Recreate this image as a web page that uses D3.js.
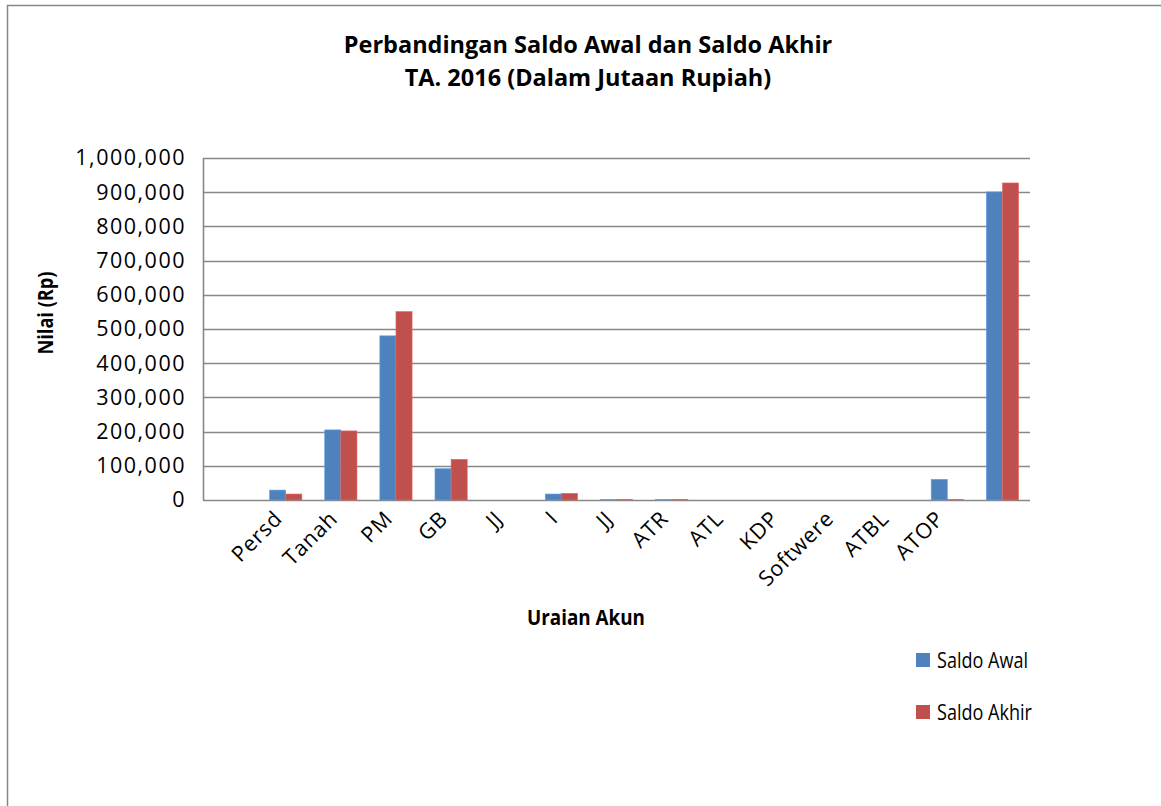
<!DOCTYPE html>
<html>
<head>
<meta charset="utf-8">
<script src="https://cdn.jsdelivr.net/npm/d3@7"></script>
<style>
  body { margin: 0; background: #fff; }
  svg { display: block; font-family: "Open Sans", "Noto Sans", sans-serif; }
</style>
</head>
<body>
<div id="graphic"></div>
<script>
const width = 1161;
const height = 806;
const margin = { top: 158, right: 131, bottom: 306, left: 203 };

const innerW = width - margin.left - margin.right;
const innerH = height - margin.top - margin.bottom;

// data (Jutaan Rupiah)
const categories = ["", "Persd", "Tanah", "PM", "GB", "JJ", "I", "JJ ", "ATR", "ATL", "KDP", "Softwere", "ATBL", "ATOP", " "];
const saldoAwal  = [0, 29000, 205000, 480000, 91500, 0, 17500, 1500, 1500, 0, 0, 0, 0, 60500, 901000];
const saldoAkhir = [0, 17500, 202000, 551000, 119000, 0, 19500, 1500, 1500, 0, 0, 0, 0, 1500, 927000];
const seriesNames = ["Saldo Awal", "Saldo Akhir"];
const seriesColors = ["#4F81BD", "#C0504D"];
const yTicks = [0, 100000, 200000, 300000, 400000, 500000, 600000, 700000, 800000, 900000, 1000000];

const svg = d3.select("#graphic").append("svg")
  .attr("width", width)
  .attr("height", height);

// chart frame
svg.append("rect")
  .attr("x", 7.5).attr("y", 5.5)
  .attr("width", width + 20).attr("height", height + 20)
  .attr("fill", "#fff")
  .attr("stroke", "#868686")
  .attr("stroke-width", 1.5);

const g = svg.append("g")
  .attr("transform", `translate(${margin.left},${margin.top})`);

const x = d3.scaleBand()
  .domain(d3.range(categories.length))
  .range([0, innerW]);

const x1 = d3.scaleBand()
  .domain(seriesNames)
  .range([0, x.bandwidth()])
  .paddingOuter(0.71);

const y = d3.scaleLinear()
  .domain([0, 1000000])
  .range([innerH, 0]);

// gridlines
g.append("g")
  .selectAll("line")
  .data(yTicks)
  .join("line")
  .attr("x1", 0)
  .attr("x2", innerW)
  .attr("y1", d => Math.round(y(d)) + 0.5)
  .attr("y2", d => Math.round(y(d)) + 0.5)
  .attr("stroke", "#888")
  .attr("stroke-width", 1.6);

// left axis line
g.append("line")
  .attr("x1", 0.5).attr("x2", 0.5)
  .attr("y1", 0).attr("y2", innerH)
  .attr("stroke", "#888")
  .attr("stroke-width", 1.6);

// y tick labels
const gy = g.append("g")
  .call(d3.axisLeft(y).tickValues(yTicks).tickFormat(d3.format(",")).tickSize(0).tickPadding(17));
gy.select(".domain").remove();
gy.selectAll("text")
  .attr("font-size", 21.5)
  .attr("letter-spacing", 1.5)
  .attr("font-family", "Open Sans, sans-serif")
  .attr("fill", "#000");

// bars
const rows = categories.map((c, i) => ({ i, values: [saldoAwal[i], saldoAkhir[i]] }));

const groups = g.append("g")
  .selectAll("g")
  .data(rows)
  .join("g")
  .attr("transform", d => `translate(${x(d.i)},0)`);

groups.selectAll("rect")
  .data(d => d.values.map((v, k) => ({ key: seriesNames[k], v, k })))
  .join("rect")
  .attr("x", d => x1(d.key))
  .attr("y", d => y(d.v))
  .attr("width", x1.bandwidth())
  .attr("height", d => innerH - y(d.v))
  .attr("fill", d => seriesColors[d.k])
  .attr("stroke", d => d3.color(seriesColors[d.k]).brighter(0.6))
  .attr("stroke-width", 0.6);

// x tick labels, rotated
const gx = g.append("g")
  .attr("transform", `translate(0,${innerH})`);
gx.selectAll("text")
  .data(categories)
  .join("text")
  .attr("transform", (d, i) => `translate(${x(i) + x.bandwidth() / 2 - 2},${20}) rotate(-45)`)
  .attr("text-anchor", "end")
  .attr("font-size", 21.5)
  .attr("letter-spacing", 0.8)
  .attr("font-family", "Open Sans, sans-serif")
  .attr("fill", "#000")
  .text(d => d.trim());

// titles
const title = svg.append("text")
  .attr("x", 588)
  .attr("y", 53)
  .attr("text-anchor", "middle")
  .attr("font-size", 23.5)
  .attr("font-weight", 700)
  .attr("font-family", "Open Sans, sans-serif");
title.append("tspan").attr("x", 588).text("Perbandingan Saldo Awal dan Saldo Akhir");
title.append("tspan").attr("x", 588).attr("dy", 33).text("TA. 2016 (Dalam Jutaan Rupiah)");

svg.append("text")
  .attr("x", 586)
  .attr("y", 625)
  .attr("text-anchor", "middle")
  .attr("font-size", 21)
  .attr("font-weight", 700)
  .attr("textLength", 118)
  .attr("lengthAdjust", "spacingAndGlyphs")
  .text("Uraian Akun");

svg.append("text")
  .attr("transform", "translate(53,313) rotate(-90)")
  .attr("text-anchor", "middle")
  .attr("font-size", 21)
  .attr("font-weight", 700)
  .attr("textLength", 83)
  .attr("lengthAdjust", "spacingAndGlyphs")
  .text("Nilai (Rp)");

// legend
const lg = svg.append("g").attr("transform", "translate(916,653)");
seriesNames.forEach((name, k) => {
  lg.append("rect")
    .attr("x", 0).attr("y", k * 52)
    .attr("width", 14).attr("height", 14)
    .attr("fill", seriesColors[k]);
  lg.append("text")
    .attr("x", 21).attr("y", k * 52 + 15)
    .attr("font-size", 21)
    .attr("textLength", k === 0 ? 91 : 95)
    .attr("lengthAdjust", "spacingAndGlyphs")
    .attr("fill", "#000")
    .text(name);
});
</script>
</body>
</html>
